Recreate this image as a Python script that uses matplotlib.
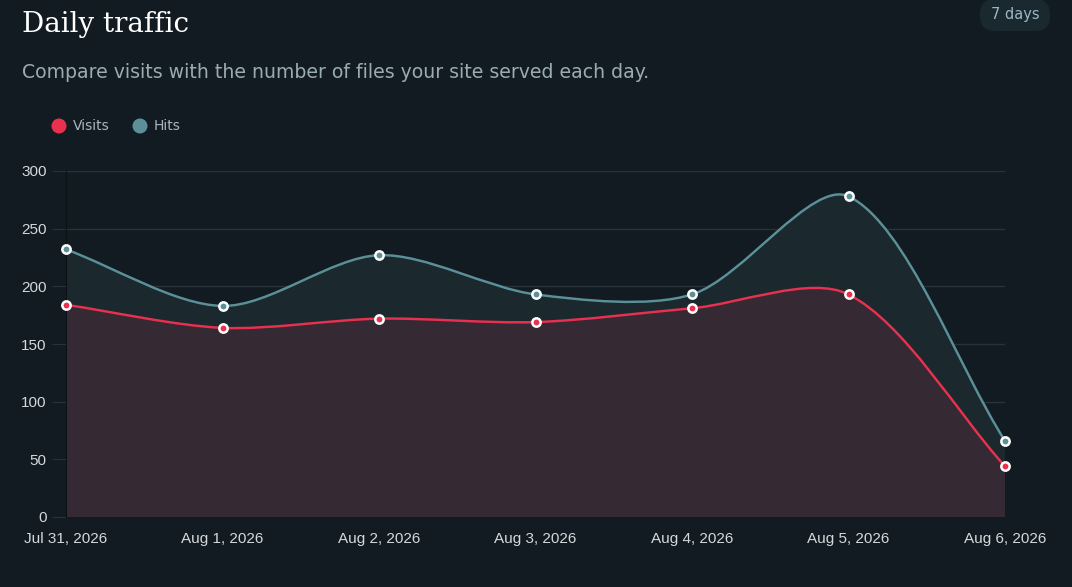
import numpy as np
import matplotlib
matplotlib.use("Agg")
import matplotlib.pyplot as plt
import matplotlib.transforms as mtransforms
from matplotlib.path import Path
from matplotlib.patches import PathPatch, FancyBboxPatch, Circle

# data
days = ["Jul 31, 2026", "Aug 1, 2026", "Aug 2, 2026", "Aug 3, 2026",
        "Aug 4, 2026", "Aug 5, 2026", "Aug 6, 2026"]
visits = [184, 164, 172, 169, 181, 193, 44]
hits = [232, 183, 227, 193, 193, 278, 66]
yticks = [0, 50, 100, 150, 200, 250, 300]

BG = "#121b21"
GRID = "#283238"
VIS_C = "#e8304f"
HIT_C = "#5b9099"
VIS_FILL = "#352a33"
HIT_FILL = "#1b282e"
TENSION = 0.3

W, H = 1072, 587
fig = plt.figure(figsize=(W / 100, H / 100), dpi=100, facecolor=BG)
# pixel coordinates, origin top left
pix = mtransforms.Affine2D().scale(1 / W, -1 / H).translate(0, 1) + fig.transFigure

# axes box in pixels: x 66..1005, y 171..517
ax = fig.add_axes([66 / W, 1 - 517 / H, (1005 - 66) / W, (517 - 171) / H])
ax.set_facecolor(BG)
ax.set_xlim(0, len(days) - 1)
ax.set_ylim(0, 300)

# pixel scale, used for the chart.js style spline
sx = (1005 - 66) / (len(days) - 1)
sy = (517 - 171) / 300.0


def spline_path(vals, close=False):
    xs = np.arange(len(vals), dtype=float)
    ys = np.array(vals, dtype=float)
    px, py = xs * sx, ys * sy
    n = len(vals)
    cps = []
    for i in range(n):
        p = max(i - 1, 0)
        q = min(i + 1, n - 1)
        d01 = np.hypot(px[i] - px[p], py[i] - py[p])
        d12 = np.hypot(px[q] - px[i], py[q] - py[i])
        tot = d01 + d12
        fa = TENSION * (d01 / tot if tot else 0)
        fb = TENSION * (d12 / tot if tot else 0)
        c1 = (px[i] - fa * (px[q] - px[p]), py[i] - fa * (py[q] - py[p]))
        c2 = (px[i] + fb * (px[q] - px[p]), py[i] + fb * (py[q] - py[p]))
        c1 = (c1[0] / sx, min(max(c1[1] / sy, 0), 300))
        c2 = (c2[0] / sx, min(max(c2[1] / sy, 0), 300))
        cps.append((c1, c2))
    verts = [(xs[0], ys[0])]
    codes = [Path.MOVETO]
    for i in range(n - 1):
        verts += [cps[i][1], cps[i + 1][0], (xs[i + 1], ys[i + 1])]
        codes += [Path.CURVE4] * 3
    if close:
        verts += [(xs[-1], 0), (xs[0], 0), (xs[0], ys[0])]
        codes += [Path.LINETO, Path.LINETO, Path.CLOSEPOLY]
    return Path(verts, codes)


ax.set_yticks(yticks)
ax.set_xticks(range(len(days)))
ax.set_xticklabels(days)
ax.grid(axis="y", color=GRID, linewidth=1)
ax.set_axisbelow(True)
for s in ["top", "right", "bottom"]:
    ax.spines[s].set_visible(False)
ax.spines["left"].set_color("#0c1317")
ax.tick_params(axis="y", length=10, color=GRID, labelcolor="#d4d9dc",
               labelsize=11, pad=4)
ax.tick_params(axis="x", length=0, labelcolor="#d4d9dc", labelsize=11, pad=11)
for lab in ax.get_xticklabels() + ax.get_yticklabels():
    lab.set_fontfamily("Liberation Sans")

ax.add_patch(PathPatch(spline_path(hits, True), facecolor=HIT_FILL,
                       edgecolor="none", zorder=1))
ax.add_patch(PathPatch(spline_path(visits, True), facecolor=VIS_FILL,
                       edgecolor="none", zorder=1.5))
ax.add_patch(PathPatch(spline_path(hits), facecolor="none", edgecolor=HIT_C,
                       linewidth=1.75, zorder=3))
ax.add_patch(PathPatch(spline_path(visits), facecolor="none", edgecolor=VIS_C,
                       linewidth=1.75, zorder=3))
x = np.arange(len(days))
ax.scatter(x, hits, s=36, facecolor=HIT_C, edgecolor="white", linewidth=1.8,
           zorder=4, clip_on=False)
ax.scatter(x, visits, s=36, facecolor=VIS_C, edgecolor="white", linewidth=1.8,
           zorder=4, clip_on=False)

# header
fig.text(22, 24, "Daily traffic", color="white", transform=pix,
         fontsize=20, family="DejaVu Serif", va="center", ha="left")
fig.text(22, 72,
         "Compare visits with the number of files your site served each day.",
         color="#9aabb3", fontsize=13.6, family="DejaVu Sans", va="center",
         transform=pix)

# legend
for cx, c, name in zip([59, 140], [VIS_C, HIT_C], ["Visits", "Hits"]):
    fig.add_artist(Circle((cx, 126), 7.5, transform=pix, facecolor=c,
                          edgecolor="none"))
    fig.text(cx + 14, 126, name, color="#a9b6bc", fontsize=10,
             family="DejaVu Sans", va="center", transform=pix)

# "7 days" pill
fig.add_artist(FancyBboxPatch((980, -1), 70, 32,
                              boxstyle="round,pad=0,rounding_size=15",
                              transform=pix, facecolor="#1a2830",
                              edgecolor="none"))
fig.text(1015, 15, "7 days", color="#9fb6c4", fontsize=10.5,
         family="DejaVu Sans", va="center", ha="center", transform=pix)

fig.savefig("out.png", dpi=100, facecolor=BG)
